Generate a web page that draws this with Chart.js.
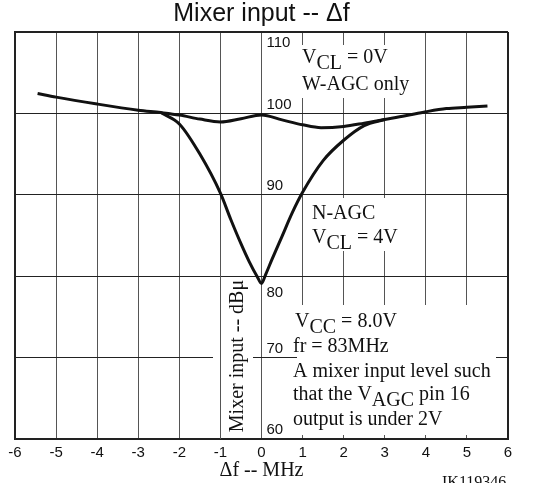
<!DOCTYPE html>
<html>
<head>
<meta charset="utf-8">
<script src="https://cdn.jsdelivr.net/npm/chart.js@4/dist/chart.umd.min.js"></script>
<style>
  body { margin: 0; background: #fff; }
  #wrap { width: 541px; height: 483px; position: relative; }
</style>
</head>
<body>
<div id="wrap"><canvas id="mixChart"></canvas></div>
<script>
// values (delta f in MHz, mixer input in dBu)
var wagcX = [-5.45, -5, -4, -3, -2.45, -2, -1.5, -1, -0.5, 0, 0.5, 1, 1.45, 2, 2.5, 3, 3.5, 4, 4.5, 5, 5.5];
var wagcY = [102.45, 102.0, 101.15, 100.4, 100.1, 99.8, 99.3, 98.95, 99.35, 99.8, 99.2, 98.6, 98.25, 98.4, 98.8, 99.25, 99.7, 100.2, 100.6, 100.75, 100.9];
var nagcX = [-2.45, -2, -1.5, -1, -0.75, -0.5, -0.3, -0.1, 0, 0.1, 0.25, 0.5, 0.75, 1, 1.5, 2, 2.5, 3];
var nagcY = [100.1, 98.7, 95.0, 90.2, 87.0, 84.0, 81.8, 79.9, 79.1, 80.2, 82.0, 84.9, 87.8, 90.3, 94.2, 96.7, 98.5, 99.25];
var yTicks = [60, 70, 80, 90, 100, 110];

var SANS = '"Liberation Sans", Arial, sans-serif';
var SERIF = '"Liberation Serif", "Times New Roman", serif';

function pts(xs, ys) {
  return xs.map(function(x, i) { return {x: x, y: ys[i]}; });
}

// text with lowered subscript runs, like V_CL
function drawRuns(ctx, x, y, runs) {
  runs.forEach(function(r) {
    ctx.fillText(r[0], x, y + (r[1] ? 6 : 0));
    x += ctx.measureText(r[0]).width;
  });
}

var notes = {
  id: 'notes',
  beforeDatasetsDraw: function(chart) {
    var ctx = chart.ctx, xs = chart.scales.x, ys = chart.scales.y;
    ctx.save();
    ctx.fillStyle = '#fff';
    ctx.fillRect(297, 45, 115, 53);
    ctx.fillRect(305, 198, 85, 53);
    ctx.fillRect(297, 305, 199, 130);
    ctx.fillRect(213, 278, 40, 157);
    // the -1 grid line runs through the axis title box
    var px = Math.round(xs.getPixelForValue(-1)) + 0.5;
    ctx.strokeStyle = '#555';
    ctx.lineWidth = 1;
    ctx.beginPath();
    ctx.moveTo(px, 276);
    ctx.lineTo(px, ys.bottom);
    ctx.stroke();
    ctx.restore();
  },
  afterDraw: function(chart) {
    var ctx = chart.ctx, xs = chart.scales.x, ys = chart.scales.y;
    ctx.save();
    ctx.fillStyle = '#111';

    // y tick labels sit inside the plot, right of the 0 line
    var off = {110: 11, 100: -9, 90: -9, 80: 17, 70: -9, 60: -9};
    ctx.font = '15px ' + SANS;
    ctx.textBaseline = 'middle';
    ctx.textAlign = 'left';
    var lx = xs.getPixelForValue(0) + 5;
    yTicks.forEach(function(v) {
      ctx.fillText(String(v), lx, ys.getPixelForValue(v) + off[v]);
    });

    ctx.textBaseline = 'alphabetic';
    ctx.font = '20px ' + SERIF;
    drawRuns(ctx, 302, 63, [['V', 0], ['CL', 1], [' = 0V', 0]]);
    ctx.fillText('W-AGC only', 302, 90);
    ctx.fillText('N-AGC', 312, 219);
    drawRuns(ctx, 312, 243, [['V', 0], ['CL', 1], [' = 4V', 0]]);
    drawRuns(ctx, 295, 327, [['V', 0], ['CC', 1], [' = 8.0V', 0]]);
    ctx.fillText('fr = 83MHz', 293, 352);
    ctx.fillText('A mixer input level such', 293, 377);
    drawRuns(ctx, 293, 400, [['that the V', 0], ['AGC', 1], [' pin 16', 0]]);
    ctx.fillText('output is under 2V', 293, 425);

    // rotated y axis title
    ctx.save();
    ctx.translate(238, 356);
    ctx.rotate(-Math.PI / 2);
    ctx.textAlign = 'center';
    ctx.textBaseline = 'middle';
    ctx.fillText('Mixer input -- dB\u03bc', 0, 0);
    ctx.restore();

    ctx.font = '16px ' + SERIF;
    ctx.fillText('IK119346', 442, 487);
    ctx.restore();
  }
};

var edgeWidth = function(lo, hi) {
  return function(c) {
    var v = c.tick ? c.tick.value : null;
    return (v === lo || v === hi) ? 2 : 1;
  };
};

var edgeColor = function(lo, hi, inner) {
  return function(c) {
    var v = c.tick ? c.tick.value : null;
    return (v === lo || v === hi) ? '#222' : inner;
  };
};

var ctx = document.getElementById('mixChart').getContext('2d');
var mixChart = new Chart(ctx, {
  type: 'line',
  data: {
    datasets: [{
      label: 'W-AGC',
      data: pts(wagcX, wagcY),
      borderColor: '#111',
      borderWidth: 3,
      pointRadius: 0,
      fill: false,
      cubicInterpolationMode: 'monotone'
    }, {
      label: 'N-AGC',
      data: pts(nagcX, nagcY),
      borderColor: '#111',
      borderWidth: 3,
      pointRadius: 0,
      fill: false,
      cubicInterpolationMode: 'monotone'
    }]
  },
  options: {
    responsive: true,
    maintainAspectRatio: false,
    animation: false,
    events: [],
    layout: { padding: { left: 15, right: 33, top: 0, bottom: 0 } },
    plugins: {
      legend: { display: false },
      tooltip: { enabled: false },
      title: {
        display: true,
        text: 'Mixer input -- \u0394f',
        color: '#111',
        font: { family: SANS, size: 25, weight: 'normal' },
        padding: { top: -1, bottom: 3 }
      }
    },
    scales: {
      x: {
        type: 'linear',
        min: -6,
        max: 6,
        ticks: { stepSize: 1, color: '#111', font: { family: SANS, size: 15 }, padding: 5, autoSkip: false, maxRotation: 0 },
        grid: { color: edgeColor(-6, 6, '#555'), lineWidth: edgeWidth(-6, 6), drawTicks: false },
        border: { color: '#222', width: 2 },
        title: {
          display: true,
          text: '\u0394f -- MHz',
          color: '#111',
          font: { family: SERIF, size: 20 },
          padding: { top: -8, bottom: 0 }
        }
      },
      y: {
        min: 60,
        max: 110,
        ticks: { stepSize: 10, display: false },
        grid: { color: edgeColor(60, 110, '#222'), lineWidth: edgeWidth(60, 110), drawTicks: false },
        border: { color: '#222', width: 2 }
      }
    }
  },
  plugins: [notes]
});
</script>
</body>
</html>
